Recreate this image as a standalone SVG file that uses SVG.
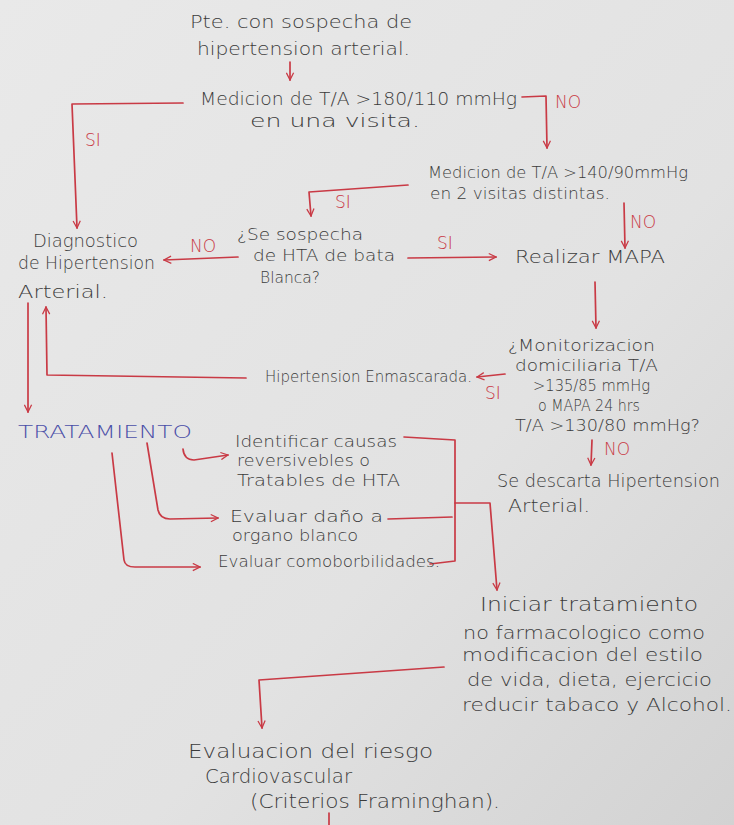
<svg xmlns="http://www.w3.org/2000/svg" width="734" height="825" viewBox="0 0 734 825">
<defs>
<linearGradient id="paper" x1="0" y1="0" x2="1" y2="1">
<stop offset="0" stop-color="#e9e9e9"/>
<stop offset="0.6" stop-color="#e2e2e2"/>
<stop offset="1" stop-color="#d2d2d2"/>
</linearGradient>
<marker id="ah" viewBox="0 0 10 10" refX="9" refY="5" markerWidth="9" markerHeight="9" markerUnits="userSpaceOnUse" orient="auto">
<path d="M1,1 L9,5 L1,9" fill="none" stroke="#c93a45" stroke-width="1.4"/>
</marker>
<style>
text{font-family:"DejaVu Sans","Liberation Sans",sans-serif;font-size:18px;fill:#3b3b3b;font-weight:300}
.lbl{fill:#c93a45;font-size:17px}
.blue{fill:#4b4fa8}
.s{font-size:16px}
.c{fill:none;stroke:#c93a45;stroke-width:1.7;stroke-linecap:round;stroke-linejoin:round}
.a{marker-end:url(#ah)}
</style>
</defs>
<rect width="734" height="825" fill="url(#paper)"/>

<g id="connectors">
<path class="c a" d="M290,62 L290,80"/>
<path class="c a" d="M183,103 L72,104 L77,228"/>
<path class="c a" d="M522,97 L546,96 L547,148"/>
<path class="c a" d="M408,185 L309,192 L311,216"/>
<path class="c a" d="M624,203 L625,248"/>
<path class="c a" d="M408,258 L496,257"/>
<path class="c a" d="M238,257 L164,260"/>
<path class="c a" d="M595,282 L596,328"/>
<path class="c a" d="M505,374 L477,377"/>
<path class="c a" d="M246,378 L47,375 L46,307"/>
<path class="c a" d="M28,303 L28,412"/>
<path class="c a" d="M592,440 L591,465"/>
<path class="c a" d="M183,449 Q184,460 194,460 L228,455"/>
<path class="c a" d="M147,443 L158,510 Q160,519 170,519 L218,518"/>
<path class="c a" d="M112,453 L124,560 Q125,567 135,567 L200,567"/>
<path class="c" d="M404,437 L455,440 L455,561 L430,564"/>
<path class="c" d="M388,519 L452,517"/>
<path class="c a" d="M455,503 L490,503 L497,590"/>
<path class="c a" d="M444,667 L259,680 L262,728"/>
<path class="c" d="M329,813 L329,825"/>
<text class="lbl" x="85" y="146">SI</text>
<text class="lbl" x="555" y="108">NO</text>
<text class="lbl" x="335" y="208">SI</text>
<text class="lbl" x="630" y="228">NO</text>
<text class="lbl" x="437" y="249">SI</text>
<text class="lbl" x="190" y="252">NO</text>
<text class="lbl" x="485" y="399">SI</text>
<text class="lbl" x="604" y="455">NO</text>
</g>

<g id="n_inicio">
<text x="190" y="28" textLength="222" lengthAdjust="spacingAndGlyphs">Pte. con sospecha de</text>
<text x="197" y="55" textLength="213" lengthAdjust="spacingAndGlyphs">hipertension arterial.</text>
</g>
<g id="n_medicion1">
<text x="200" y="105" textLength="317" lengthAdjust="spacingAndGlyphs">Medicion de T/A &gt;180/110 mmHg</text>
<text x="250" y="127" textLength="170" lengthAdjust="spacingAndGlyphs">en una visita.</text>
</g>
<g id="n_medicion2">
<text class="s" x="428" y="178" textLength="260" lengthAdjust="spacingAndGlyphs">Medicion de T/A &gt;140/90mmHg</text>
<text class="s" x="430" y="199" textLength="180" lengthAdjust="spacingAndGlyphs">en 2 visitas distintas.</text>
</g>
<g id="n_batablanca">
<text class="s" x="237" y="240" textLength="126" lengthAdjust="spacingAndGlyphs">¿Se sospecha</text>
<text class="s" x="253" y="261" textLength="142" lengthAdjust="spacingAndGlyphs">de HTA de bata</text>
<text class="s" x="260" y="283" textLength="60" lengthAdjust="spacingAndGlyphs">Blanca?</text>
</g>
<g id="n_mapa">
<text x="515" y="263" textLength="150" lengthAdjust="spacingAndGlyphs">Realizar MAPA</text>
</g>
<g id="n_diagnostico">
<text x="33" y="247" textLength="105" lengthAdjust="spacingAndGlyphs">Diagnostico</text>
<text x="18" y="269" textLength="137" lengthAdjust="spacingAndGlyphs">de Hipertension</text>
<text x="18" y="298" textLength="90" lengthAdjust="spacingAndGlyphs">Arterial.</text>
</g>
<g id="n_monitorizacion">
<text class="s" x="508" y="351" textLength="147" lengthAdjust="spacingAndGlyphs">¿Monitorizacion</text>
<text class="s" x="515" y="371" textLength="143" lengthAdjust="spacingAndGlyphs">domiciliaria T/A</text>
<text class="s" x="533" y="391" textLength="117" lengthAdjust="spacingAndGlyphs">&gt;135/85 mmHg</text>
<text class="s" x="538" y="411" textLength="102" lengthAdjust="spacingAndGlyphs">o MAPA 24 hrs</text>
<text class="s" x="515" y="431" textLength="185" lengthAdjust="spacingAndGlyphs">T/A &gt;130/80 mmHg?</text>
</g>
<g id="n_enmascarada">
<text class="s" x="265" y="382" textLength="207" lengthAdjust="spacingAndGlyphs">Hipertension Enmascarada.</text>
</g>
<g id="n_descarta">
<text x="497" y="487" textLength="223" lengthAdjust="spacingAndGlyphs">Se descarta Hipertension</text>
<text x="508" y="512" textLength="82" lengthAdjust="spacingAndGlyphs">Arterial.</text>
</g>
<g id="n_tratamiento">
<text class="blue" x="18" y="438" textLength="174" lengthAdjust="spacingAndGlyphs">TRATAMIENTO</text>
</g>
<g id="n_causas">
<text class="s" x="235" y="447" textLength="162" lengthAdjust="spacingAndGlyphs">Identificar causas</text>
<text class="s" x="237" y="466" textLength="133" lengthAdjust="spacingAndGlyphs">reversivebles o</text>
<text class="s" x="237" y="486" textLength="163" lengthAdjust="spacingAndGlyphs">Tratables de HTA</text>
</g>
<g id="n_organo">
<text class="s" x="230" y="522" textLength="153" lengthAdjust="spacingAndGlyphs">Evaluar daño a</text>
<text class="s" x="232" y="541" textLength="126" lengthAdjust="spacingAndGlyphs">organo blanco</text>
</g>
<g id="n_comorbilidades">
<text class="s" x="218" y="567" textLength="222" lengthAdjust="spacingAndGlyphs">Evaluar comoborbilidades.</text>
</g>
<g id="n_nofarmacologico">
<text x="480" y="611" textLength="218" lengthAdjust="spacingAndGlyphs" style="font-size:20px">Iniciar tratamiento</text>
<text x="463" y="639" textLength="242" lengthAdjust="spacingAndGlyphs">no farmacologico como</text>
<text x="462" y="661" textLength="241" lengthAdjust="spacingAndGlyphs">modificacion del estilo</text>
<text x="467" y="686" textLength="245" lengthAdjust="spacingAndGlyphs">de vida, dieta, ejercicio</text>
<text x="462" y="711" textLength="270" lengthAdjust="spacingAndGlyphs">reducir tabaco y Alcohol.</text>
</g>
<g id="n_riesgo">
<text x="188" y="758" textLength="245" lengthAdjust="spacingAndGlyphs" style="font-size:19px">Evaluacion del riesgo</text>
<text x="205" y="783" textLength="147" lengthAdjust="spacingAndGlyphs" style="font-size:19px">Cardiovascular</text>
<text x="250" y="808" textLength="250" lengthAdjust="spacingAndGlyphs" style="font-size:19px">(Criterios Framinghan).</text>
</g>
</svg>
